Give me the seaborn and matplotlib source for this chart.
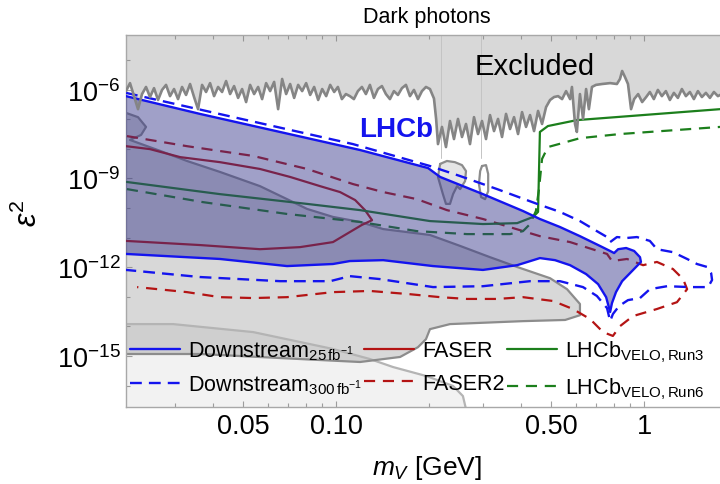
import numpy as np
import pandas as pd
import matplotlib
matplotlib.use("Agg")
import matplotlib.pyplot as plt
import seaborn as sns
from matplotlib.ticker import FixedLocator, FixedFormatter, NullFormatter
from matplotlib.lines import Line2D

# all curves: log10(m_V / GeV) and log10(eps^2)

# upper excluded region (noisy boundary)
excl_lm = [-1.682, -1.669, -1.656, -1.643, -1.630, -1.617, -1.604, -1.591, -1.578, -1.565,
           -1.552, -1.539, -1.526, -1.513, -1.500, -1.487, -1.474, -1.461, -1.448, -1.435,
           -1.422, -1.409, -1.396, -1.383, -1.370, -1.357, -1.344, -1.331, -1.318, -1.305,
           -1.292, -1.279, -1.266, -1.253, -1.240, -1.227, -1.214, -1.201, -1.188, -1.175,
           -1.162, -1.149, -1.136, -1.123, -1.110, -1.097, -1.084, -1.071, -1.058, -1.045,
           -1.032, -1.019, -1.006, -0.994, -0.981, -0.968, -0.955, -0.942, -0.929, -0.916,
           -0.903, -0.890, -0.877, -0.864, -0.851, -0.838, -0.825, -0.812, -0.799, -0.786,
           -0.773, -0.760, -0.747, -0.734, -0.721, -0.708, -0.695,
           -0.682,
           -0.675, -0.669, -0.656, -0.643, -0.630, -0.617, -0.604, -0.591, -0.578, -0.565,
           -0.552, -0.539, -0.526, -0.513, -0.500, -0.487, -0.474, -0.461, -0.448, -0.435,
           -0.422, -0.409, -0.396, -0.383, -0.370, -0.357, -0.344, -0.331, -0.318,
           -0.305, -0.292, -0.279, -0.266, -0.253, -0.240,
           -0.234, -0.224, -0.218, -0.208, -0.198, -0.188, -0.179, -0.169, -0.156, -0.136,
           -0.110, -0.088, -0.078, -0.071, -0.062, -0.052, -0.042,
           -0.032, -0.019, -0.006, 0.007, 0.019, 0.032, 0.045, 0.058, 0.071, 0.084,
           0.097, 0.110, 0.123, 0.136, 0.149, 0.162, 0.175, 0.188, 0.201, 0.214,
           0.227, 0.240, 0.253, 0.279]
excl_le = [-6.05, -5.78, -6.22, -6.66, -6.15, -5.91, -6.25, -5.95, -6.35, -6.01,
           -5.84, -6.22, -5.98, -6.32, -5.91, -6.18, -5.81, -6.25, -6.66, -5.84,
           -6.08, -5.78, -6.22, -5.91, -6.08, -5.71, -6.15, -5.88, -6.28, -5.98,
           -6.42, -5.84, -6.15, -5.91, -6.32, -5.78, -6.05, -5.74, -6.66, -5.64,
           -6.15, -5.81, -6.28, -5.84, -6.05, -5.78, -6.18, -5.91, -6.35, -5.98,
           -6.22, -5.84, -6.08, -5.91, -6.32, -6.15, -6.22, -6.32, -6.05, -5.91,
           -6.15, -5.84, -6.28, -5.98, -5.88, -6.15, -6.32, -6.05, -6.18, -5.95,
           -5.84, -6.22, -6.01, -6.32, -6.05, -5.91, -5.98,
           -6.30,
           -6.99, -7.84, -7.26, -7.94, -7.06, -7.67, -6.99, -7.60, -7.16, -7.84,
           -6.93, -7.50, -7.06, -7.67, -6.86, -7.40, -6.99, -7.60, -6.82, -7.33,
           -6.93, -7.50, -6.76, -7.26, -6.86, -7.40, -6.72, -7.16, -6.59,
           -6.35, -6.25, -6.22, -6.32, -6.05, -6.32,
           -5.91, -7.16, -7.43, -6.15, -6.99, -5.98, -6.66, -5.91, -5.84, -5.81,
           -5.78, -5.81, -5.64, -5.37, -5.57, -5.81, -6.66,
           -6.32, -6.15, -6.42, -6.25, -6.08, -6.32, -6.01, -6.22, -6.05, -6.35,
           -6.11, -6.28, -5.98, -6.22, -6.08, -6.32, -6.05, -6.25, -6.11, -6.28,
           -6.08, -6.22, -6.15, -6.15]

# small excluded islands
island1_lm = [-0.662, -0.640, -0.614, -0.591, -0.578, -0.581, -0.597, -0.607, -0.620, -0.630, -0.643, -0.653, -0.669, -0.662]
island1_le = [-8.51, -8.41, -8.45, -8.55, -8.75, -9.09, -9.36, -9.26, -9.53, -9.86, -9.86, -9.53, -8.95, -8.51]
island2_lm = [-0.526, -0.513, -0.506, -0.506, -0.516, -0.529, -0.536, -0.532, -0.526]
island2_le = [-8.58, -8.55, -8.85, -9.43, -9.70, -9.63, -9.19, -8.75, -8.58]

# beam-dump excluded region
dump_lm = [-1.70, -1.643, -1.617, -1.633, -1.669, -1.571, -1.484, -1.377, -1.247, -1.159,
           -1.094, -1.010, -0.922, -0.847, -0.695, -0.597, -0.500, -0.412, -0.305, -0.250,
           -0.208, -0.208, -0.256, -0.393, -0.630, -0.695, -0.708, -0.734, -0.792, -0.922,
           -1.117, -1.442, -1.70]
dump_le = [-6.72, -6.93, -7.26, -7.53, -7.70, -8.07, -8.41, -8.78, -9.26, -9.70,
           -10.03, -10.30, -10.47, -10.71, -10.91, -11.28, -11.66, -11.99, -12.37, -12.74,
           -13.24, -13.62, -13.78, -13.82, -13.92, -14.09, -14.43, -14.70, -15.03, -15.20,
           -15.10, -14.93, -14.93]

# lower excluded region
low_lm = [-1.70, -1.529, -1.269, -1.010, -0.890, -0.815, -0.705, -0.620, -0.588, -0.578, -0.578, -1.70]
low_le = [-13.92, -13.92, -14.19, -14.76, -15.10, -15.37, -15.68, -16.01, -16.35, -16.79, -17.5, -17.5]

# LHCb downstream, 25 fb^-1 (closed contour)
ds25_lm = [-1.682, -1.442, -1.182, -0.922, -0.701, -0.662, -0.523, -0.393, -0.338, -0.273,
           -0.208, -0.143, -0.110, -0.097, -0.084, -0.058, -0.032, -0.013, -0.010, -0.039,
           -0.071, -0.091, -0.104, -0.110, -0.123, -0.149, -0.188, -0.240, -0.289, -0.338,
           -0.412, -0.523, -0.685, -0.847, -0.955, -1.010, -1.159, -1.377, -1.682]
ds25_le = [-6.22, -6.82, -7.43, -8.04, -8.65, -8.95, -9.53, -10.10, -10.37, -10.64,
           -10.95, -11.28, -11.45, -11.52, -11.39, -11.35, -11.45, -11.66, -11.82, -12.13,
           -12.47, -12.84, -13.21, -13.51, -13.01, -12.57, -12.23, -11.93, -11.76, -11.69,
           -11.93, -12.09, -11.96, -11.76, -11.79, -11.89, -11.96, -11.72, -11.55]

# LHCb downstream, 300 fb^-1
ds300_lm = [-1.682, -0.945, -0.695, -0.597, -0.477, -0.347, -0.273, -0.208, -0.153, -0.120,
            -0.110, -0.088, -0.055, -0.023, 0.019, 0.042, 0.094, 0.140, 0.172, 0.205,
            0.218, 0.221, 0.208, 0.149, 0.075, 0.019, -0.013, -0.052, -0.081, -0.101,
            -0.110, -0.120, -0.153, -0.198, -0.273, -0.370, -0.523, -0.685, -0.857, -0.955,
            -1.019, -1.182, -1.442, -1.682]
ds300_le = [-6.11, -7.84, -8.58, -8.92, -9.36, -9.86, -10.13, -10.44, -10.78, -10.98,
            -11.15, -10.98, -11.01, -10.98, -11.11, -11.39, -11.49, -11.72, -11.89, -11.99,
            -12.20, -12.43, -12.67, -12.67, -12.64, -12.74, -13.04, -13.11, -13.31, -13.58,
            -13.82, -13.38, -12.97, -12.67, -12.47, -12.47, -12.64, -12.67, -12.40, -12.30,
            -12.47, -12.47, -12.33, -12.09]

# FASER
faser_lm = [-1.682, -1.604, -1.506, -1.377, -1.247, -1.149, -1.052, -0.987, -0.938, -0.906,
            -0.883, -0.916, -0.955, -1.010, -1.117, -1.247, -1.442, -1.682]
faser_le = [-7.91, -8.01, -8.28, -8.45, -8.68, -8.95, -9.26, -9.46, -9.73, -10.07,
            -10.41, -10.57, -10.81, -11.15, -11.32, -11.39, -11.25, -11.11]

# FASER2
faser2_lm = [-1.679, -1.484, -1.269, -1.094, -0.945, -0.847, -0.737, -0.640, -0.523, -0.338,
             -0.240, -0.120, -0.104, -0.055, -0.003, 0.042, 0.094, 0.127, 0.140, 0.107,
             0.042, -0.036, -0.078, -0.101, -0.133, -0.175, -0.231, -0.295, -0.393, -0.477,
             -0.575, -0.662, -0.760, -0.890, -1.010, -1.159, -1.269, -1.377, -1.484, -1.646]
faser2_le = [-7.57, -7.91, -8.24, -8.68, -9.19, -9.46, -9.70, -10.07, -10.37, -10.95,
             -11.15, -11.55, -11.79, -11.72, -11.93, -11.82, -12.06, -12.40, -12.74, -13.18,
             -13.41, -13.65, -13.99, -14.32, -14.19, -13.75, -13.41, -13.14, -13.01, -13.07,
             -13.07, -13.01, -12.91, -12.80, -12.84, -13.01, -13.04, -13.01, -12.84, -12.67]

# LHCb VELO Run3 / Run6
run3_lm = [-1.679, -1.377, -1.094, -0.922, -0.695, -0.523, -0.412, -0.360, -0.344, -0.338,
           -0.312, -0.218, 0.247, 0.279]
run3_le = [-9.12, -9.53, -9.86, -10.07, -10.44, -10.54, -10.51, -10.30, -10.13, -7.43,
           -7.23, -7.03, -6.66, -6.62]
run6_lm = [-1.679, -1.432, -1.159, -0.922, -0.737, -0.575, -0.435, -0.393, -0.370, -0.351,
           -0.341, -0.331, -0.312, -0.263, -0.208, -0.078, 0.247, 0.279]
run6_le = [-9.36, -9.80, -10.20, -10.47, -10.78, -10.88, -10.88, -10.78, -10.54, -10.10,
           -9.36, -8.34, -7.94, -7.80, -7.64, -7.50, -7.26, -7.23]

x_major = [0.05, 0.1, 0.5, 1]
x_major_labels = ['0.05', '0.10', '0.50', '1']
x_minor = [0.03, 0.04, 0.06, 0.07, 0.08, 0.09, 0.2, 0.3, 0.4, 0.6, 0.7, 0.8, 0.9]
y_major = [1e-15, 1e-12, 1e-9, 1e-6]

BLUE = '#1414ee'
RED = '#b41414'
GREEN = '#1c7f1c'
GRAY = (0.5, 0.5, 0.5)

sns.set_style("ticks")
plt.rcParams['font.family'] = ['Liberation Sans', 'DejaVu Sans']
plt.rcParams['text.color'] = 'black'
plt.rcParams['mathtext.fontset'] = 'custom'
plt.rcParams['mathtext.rm'] = 'Liberation Sans'
plt.rcParams['mathtext.it'] = 'Liberation Sans:italic'
plt.rcParams['mathtext.bf'] = 'Liberation Sans:bold'


def p10(a):
    return np.power(10.0, np.asarray(a, dtype=float))


def curve(ax, lm, le, color, ls='-', lw=1.6, z=3):
    df = pd.DataFrame({'m': p10(lm), 'eps2': p10(le)})
    sns.lineplot(data=df, x='m', y='eps2', sort=False, estimator=None, color=color,
                 linestyle=ls, lw=lw, zorder=z, ax=ax)


fig = plt.figure(figsize=(7.2, 4.85), dpi=100)
ax = fig.add_axes([126 / 720, 77 / 485, 601 / 720, 372 / 485])
ax.set_xscale('log')
ax.set_yscale('log')

# shaded regions
ax.fill(p10(low_lm), p10(low_le), color=GRAY, alpha=0.1, lw=0, zorder=1)
ax.fill(p10(dump_lm), p10(dump_le), color=GRAY, alpha=0.3, lw=0, zorder=1)
ax.fill_between(p10(excl_lm), p10(excl_le), 1e-3, color=GRAY, alpha=0.3, lw=0, zorder=1)
ax.fill(p10(island1_lm), p10(island1_le), color=GRAY, alpha=0.2, lw=0, zorder=1)
for lmv, lev in [(-0.659, -8.3), (-0.529, -8.3)]:
    ax.plot([10 ** lmv, 10 ** lmv], [1e-3, 10 ** lev], color='#c4c4c4', lw=0.7, zorder=1)

curve(ax, low_lm[:10], low_le[:10], '#b4b4b4', lw=1.6, z=2)
curve(ax, dump_lm, dump_le, '#8c8c8c', lw=1.6, z=2)
curve(ax, island1_lm, island1_le, '#8c8c8c', lw=1.6, z=2)
curve(ax, island2_lm, island2_le, '#8c8c8c', lw=1.6, z=2)

# projections drawn below the LHCb fill
curve(ax, faser_lm, faser_le, RED, z=3)
curve(ax, faser2_lm, faser2_le, RED, ls=(0, (5, 3.5)), z=3)
curve(ax, run3_lm, run3_le, GREEN, z=3)
curve(ax, run6_lm, run6_le, GREEN, ls=(0, (5, 3.5)), z=3)

ax.fill(p10(ds25_lm), p10(ds25_le), color=(0.21, 0.21, 0.54), alpha=0.47, lw=0, zorder=4)
curve(ax, ds25_lm, ds25_le, BLUE, lw=1.7, z=5)
curve(ax, ds300_lm, ds300_le, BLUE, ls=(0, (5, 3)), lw=1.7, z=5)
curve(ax, excl_lm, excl_le, '#858585', lw=1.9, z=5)

ax.set_xlim(10 ** -1.682, 10 ** 0.2695)
ax.set_ylim(10 ** -16.72, 10 ** -4.155)
ax.set_xlabel('')
ax.set_ylabel('')

ax.xaxis.set_major_locator(FixedLocator(x_major))
ax.xaxis.set_major_formatter(FixedFormatter(x_major_labels))
ax.xaxis.set_minor_locator(FixedLocator(x_minor))
ax.xaxis.set_minor_formatter(NullFormatter())
ax.yaxis.set_major_locator(FixedLocator(y_major))
ax.yaxis.set_minor_locator(FixedLocator([10.0 ** k for k in range(-17, -3)]))
ax.yaxis.set_minor_formatter(NullFormatter())

ax.tick_params(which='both', direction='in', top=True, right=False, color='#a0a0a0',
               width=0.8, labelcolor='black')
ax.tick_params(which='major', length=4.5, labelsize=19.5, pad=4)
ax.tick_params(which='minor', length=3)
for s in ['left', 'bottom', 'top']:
    ax.spines[s].set_color('#a8a8a8')
    ax.spines[s].set_linewidth(1.0)
ax.spines['right'].set_visible(False)

ax.text(10 ** -0.805, 10 ** -7.33, 'LHCb', color=BLUE, fontsize=20, fontweight='bold',
        ha='center', va='center', zorder=6)
ax.text(10 ** -0.354, 10 ** -5.2, 'Excluded', color='black', fontsize=21,
        ha='center', va='center', zorder=6)

handles = [
    Line2D([], [], color=BLUE, lw=1.7),
    Line2D([], [], color=BLUE, lw=1.7, ls=(0, (5, 3))),
    Line2D([], [], color=RED, lw=1.6),
    Line2D([], [], color=RED, lw=1.6, ls=(0, (5, 3.5))),
    Line2D([], [], color=GREEN, lw=1.6),
    Line2D([], [], color=GREEN, lw=1.6, ls=(0, (5, 3.5))),
]
labels = [
    r'Downstream$_{25\,\mathrm{fb}^{-1}}$',
    r'Downstream$_{300\,\mathrm{fb}^{-1}}$',
    'FASER',
    'FASER2',
    r'LHCb$_{\mathrm{VELO,Run3}}$',
    r'LHCb$_{\mathrm{VELO,Run6}}$',
]
leg = ax.legend(handles, labels, ncol=3, loc='upper left', bbox_to_anchor=(0.006, 0.185),
                frameon=False, fontsize=15.5, handlelength=2.33, handletextpad=0.37,
                columnspacing=0.1, labelspacing=0.55, borderpad=0, borderaxespad=0)
leg.set_zorder(7)

fig.text(427 / 720, 1 - 17 / 485, 'Dark photons', ha='center', va='center', fontsize=15.5)
fig.text(427 / 720, 1 - 468 / 485, r'$m_V$ [GeV]', ha='center', va='center', fontsize=19)
fig.text(28 / 720, 1 - 213 / 485, r'$\varepsilon^2$', ha='center', va='center',
         fontsize=22, rotation=90)

fig.savefig('out.png', dpi=100)
